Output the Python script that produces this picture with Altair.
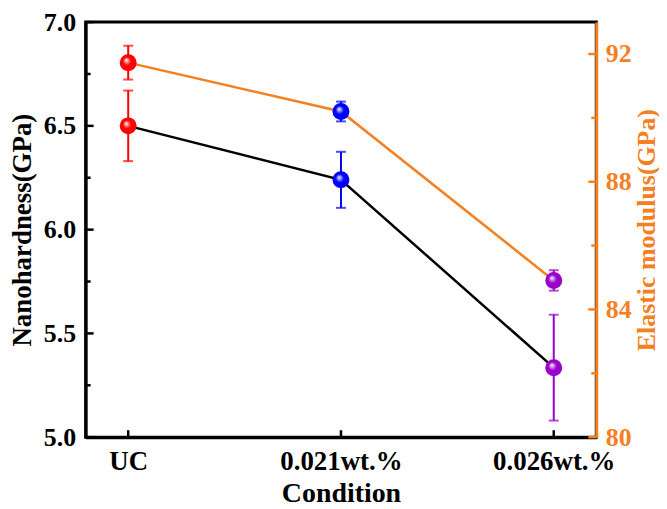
import altair as alt
import pandas as pd

conditions = ["UC", "0.021wt.%", "0.026wt.%"]
hardness = [6.50, 6.24, 5.335]
hardness_err = [0.17, 0.135, 0.255]
modulus = [91.73, 90.20, 84.91]
modulus_err = [0.53, 0.31, 0.32]
point_colors = ["#FF0000", "#0000FF", "#9900CC"]

left_major = [5.0, 5.5, 6.0, 6.5, 7.0]
left_minor = [5.25, 5.75, 6.25, 6.75]
right_major = [80, 84, 88, 92]
right_minor = [82, 86, 90]

ORANGE = "#F5801F"
FONT = "Times New Roman, Liberation Serif, serif"
W, H = 513, 417

df = pd.DataFrame({
    "condition": conditions,
    "hardness": hardness,
    "h_lo": [v - e for v, e in zip(hardness, hardness_err)],
    "h_hi": [v + e for v, e in zip(hardness, hardness_err)],
    "modulus": modulus,
    "m_lo": [v - e for v, e in zip(modulus, modulus_err)],
    "m_hi": [v + e for v, e in zip(modulus, modulus_err)],
})

xenc = alt.X("condition:N", sort=conditions,
             scale=alt.Scale(type="point", padding=0.2),
             axis=alt.Axis(title="Condition", labelAngle=0, ticks=False,
                           labelPadding=11, titlePadding=6,
                           labelFont=FONT, titleFont=FONT,
                           labelFontSize=27, titleFontSize=28,
                           domainColor="black", domainWidth=3))
color_enc = alt.Color("condition:N", scale=alt.Scale(domain=conditions, range=point_colors),
                      legend=None)

lscale = alt.Scale(domain=[5, 7], nice=False, zero=False)
rscale = alt.Scale(domain=[80, 93], nice=False, zero=False)

base = alt.Chart(df)


def gradient(c):
    return alt.RadialGradient(
        gradient="radial", x1=0.38, y1=0.35, r1=0.0, x2=0.5, y2=0.5, r2=0.55,
        stops=[alt.GradientStop(color="white", offset=0.0),
               alt.GradientStop(color=c, offset=0.45),
               alt.GradientStop(color=c, offset=1.0)])


def point_layers(field, yscale):
    layers = []
    for c, col in zip(conditions, point_colors):
        layers.append(
            base.transform_filter(alt.datum.condition == c)
            .mark_point(shape="circle", filled=True, size=290, opacity=1, fill=gradient(col), strokeWidth=0)
            .encode(x=xenc, y=alt.Y(f"{field}:Q", scale=yscale))
        )
    return layers


# Left (hardness) layer
h_line = base.mark_line(color="black", strokeWidth=2.5).encode(
    x=xenc,
    y=alt.Y("hardness:Q", scale=lscale,
            axis=alt.Axis(title="Nanohardness(GPa)", values=left_major, format=".1f",
                          ticks=False, labelPadding=10, titlePadding=7,
                          labelFont=FONT, titleFont=FONT,
                          labelFontSize=26, titleFontSize=27,
                          domainColor="black", domainWidth=3, orient="left")))
h_err = base.mark_rule(strokeWidth=2).encode(x=xenc, y=alt.Y("h_lo:Q", scale=lscale), y2="h_hi:Q", color=color_enc)
h_cap_lo = base.mark_tick(size=10, thickness=2).encode(x=xenc, y=alt.Y("h_lo:Q", scale=lscale), color=color_enc)
h_cap_hi = base.mark_tick(size=10, thickness=2).encode(x=xenc, y=alt.Y("h_hi:Q", scale=lscale), color=color_enc)

lmaj = alt.Chart(pd.DataFrame({"v": left_major})).mark_rule(color="black", strokeWidth=2.5).encode(
    y=alt.Y("v:Q", scale=lscale), x=alt.value(0), x2=alt.value(8))
lmin = alt.Chart(pd.DataFrame({"v": left_minor})).mark_rule(color="black", strokeWidth=2.5).encode(
    y=alt.Y("v:Q", scale=lscale), x=alt.value(0), x2=alt.value(5))
xt = alt.Chart(pd.DataFrame({"condition": conditions})).mark_rule(color="black", strokeWidth=2.5).encode(
    x=alt.X("condition:N", sort=conditions, scale=alt.Scale(type="point", padding=0.2)),
    y=alt.value(H), y2=alt.value(H - 7))

left = alt.layer(h_line, h_err, h_cap_lo, h_cap_hi, *point_layers("hardness", lscale), lmaj, lmin, xt)

# Right (modulus) layer
m_line = base.mark_line(color=ORANGE, strokeWidth=2.5).encode(
    x=xenc,
    y=alt.Y("modulus:Q", scale=rscale,
            axis=alt.Axis(title="Elastic modulus(GPa)", values=right_major, orient="right",
                          ticks=False, labelPadding=9, titlePadding=2,
                          titleAngle=270, titleBaseline="top",
                          labelFont=FONT, titleFont=FONT,
                          labelFontSize=26, titleFontSize=26,
                          labelColor=ORANGE, titleColor=ORANGE,
                          domainColor=ORANGE, domainWidth=3)))
m_err = base.mark_rule(strokeWidth=2).encode(x=xenc, y=alt.Y("m_lo:Q", scale=rscale), y2="m_hi:Q", color=color_enc)
m_cap_lo = base.mark_tick(size=10, thickness=2).encode(x=xenc, y=alt.Y("m_lo:Q", scale=rscale), color=color_enc)
m_cap_hi = base.mark_tick(size=10, thickness=2).encode(x=xenc, y=alt.Y("m_hi:Q", scale=rscale), color=color_enc)

rmaj = alt.Chart(pd.DataFrame({"v": right_major})).mark_rule(color=ORANGE, strokeWidth=2.5).encode(
    y=alt.Y("v:Q", scale=rscale), x=alt.value(W), x2=alt.value(W - 8))
rmin = alt.Chart(pd.DataFrame({"v": right_minor})).mark_rule(color=ORANGE, strokeWidth=2.5).encode(
    y=alt.Y("v:Q", scale=rscale), x=alt.value(W), x2=alt.value(W - 5))

right = alt.layer(m_line, m_err, m_cap_lo, m_cap_hi, *point_layers("modulus", rscale), rmaj, rmin)

chart = alt.layer(left, right).resolve_scale(y="independent", color="shared").properties(
    width=W, height=H, padding={"left": 0, "top": 0, "right": 0, "bottom": 0}
).configure_view(stroke="black", strokeWidth=3).configure_axis(
    labelFontWeight="bold", titleFontWeight="bold",
    labelColor="black", titleColor="black", grid=False
)

chart.save("out.html", embed_options={"renderer": "svg", "actions": False})
